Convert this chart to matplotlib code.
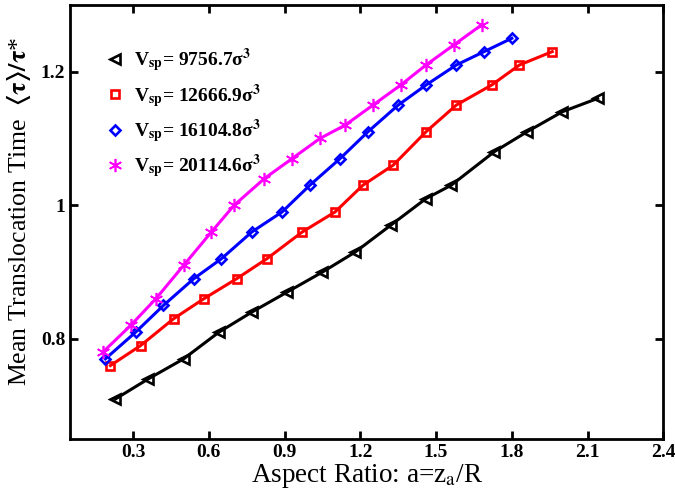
import matplotlib
matplotlib.use("Agg")
import matplotlib.pyplot as plt
from matplotlib.lines import Line2D
from matplotlib.ticker import FormatStrFormatter, FuncFormatter

plt.rcParams['font.family'] = ['Liberation Serif', 'DejaVu Serif']
plt.rcParams['mathtext.fontset'] = 'stix'

x_black = [0.23, 0.36, 0.50, 0.64, 0.77, 0.91, 1.05, 1.18, 1.32, 1.46, 1.56, 1.73, 1.86, 2.00, 2.14]
y_black = [0.71, 0.74, 0.77, 0.81, 0.84, 0.87, 0.90, 0.93, 0.97, 1.01, 1.03, 1.08, 1.11, 1.14, 1.16]
x_red = [0.21, 0.33, 0.46, 0.58, 0.71, 0.83, 0.97, 1.10, 1.21, 1.33, 1.46, 1.58, 1.72, 1.83, 1.96]
y_red = [0.76, 0.79, 0.83, 0.86, 0.89, 0.92, 0.96, 0.99, 1.03, 1.06, 1.11, 1.15, 1.18, 1.21, 1.23]
x_blue = [0.19, 0.31, 0.42, 0.54, 0.65, 0.77, 0.89, 1.00, 1.12, 1.23, 1.35, 1.46, 1.58, 1.69, 1.80]
y_blue = [0.77, 0.81, 0.85, 0.89, 0.92, 0.96, 0.99, 1.03, 1.07, 1.11, 1.15, 1.18, 1.21, 1.23, 1.25]
x_mag = [0.18, 0.29, 0.39, 0.50, 0.61, 0.70, 0.82, 0.93, 1.04, 1.14, 1.25, 1.36, 1.46, 1.57, 1.68]
y_mag = [0.78, 0.82, 0.86, 0.91, 0.96, 1.00, 1.04, 1.07, 1.10, 1.12, 1.15, 1.18, 1.21, 1.24, 1.27]

volumes = ['9756.7', '12666.9', '16104.8', '20114.6']
x_ticks = [0.3, 0.6, 0.9, 1.2, 1.5, 1.8, 2.1, 2.4]
y_ticks = [0.8, 1.0, 1.2]

series = [
    (x_black, y_black, 'black', '<', 7),
    (x_red, y_red, 'red', 's', 6),
    (x_blue, y_blue, 'blue', 'D', 5),
    (x_mag, y_mag, 'magenta', (6, 2, 0), 9.5),
]

fig = plt.figure(figsize=(6.75, 4.99), dpi=100)
ax = fig.add_axes([0.1037, 0.1202, 0.879, 0.870])

handles = []
for (xs, ys, c, m, ms), v in zip(series, volumes):
    mew = 1.2 if isinstance(m, tuple) else 1.9
    ax.plot(xs, ys, color=c, lw=2.2, marker=m, ms=ms, mfc='none', mec=c, mew=mew, zorder=3)
    h = Line2D([], [], color=c, lw=0, marker=m, ms=ms, mfc='none', mec=c, mew=mew)
    handles.append(h)

labels = [r'V$_{\mathbf{sp}}$= ' + v + r'σ$^{\mathbf{3}}$' for v in volumes]
leg = ax.legend(handles, labels, loc='upper left', bbox_to_anchor=(0.03, 0.945),
                frameon=False, prop={'size': 14, 'weight': 'bold'},
                handletextpad=0.5, labelspacing=0.38, handlelength=1.0)

ax.set_xlim(0.05, 2.4)
ax.set_ylim(0.65, 1.3)
ax.set_xticks(x_ticks)
ax.set_yticks(y_ticks)
ax.xaxis.set_major_formatter(FormatStrFormatter('%.1f'))
ax.yaxis.set_major_formatter(FuncFormatter(lambda v, p: '%g' % v))
ax.tick_params(direction='in', length=6, width=2, top=True, right=True, labelsize=14)
for lab in ax.get_xticklabels() + ax.get_yticklabels():
    lab.set_fontweight('bold')
for sp in ax.spines.values():
    sp.set_linewidth(2)

ax.set_xlabel(r'Aspect Ratio: a=z$_{\mathrm{a}}$/R', fontsize=19.5, labelpad=1)
ax.set_ylabel(r'Mean Translocation Time  $\mathbf{\langle\tau\rangle/\tau}$*', fontsize=18.5)
ax.yaxis.set_label_coords(-0.062, 0.525)

fig.savefig('out.png', dpi=100)
